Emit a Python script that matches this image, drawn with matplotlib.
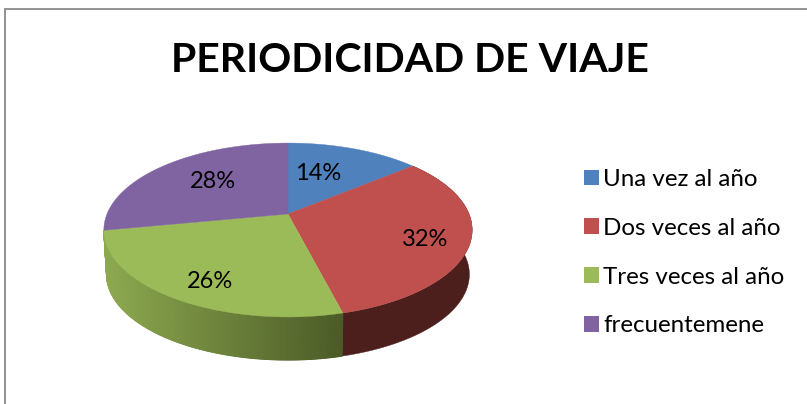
"""Periodicidad de viaje: 3D-looking pie, drawn as a projected disc."""

import numpy as np
import matplotlib
matplotlib.use("Agg")
import matplotlib.pyplot as plt
from matplotlib.collections import PolyCollection
from matplotlib.patches import Patch, Polygon

TITLE = "PERIODICIDAD DE VIAJE"
categories = ["Una vez al año", "Dos veces al año", "Tres veces al año", "frecuentemene"]
shares = [14, 32, 26, 28]

colors = ["#4f81bd", "#c0504d", "#9bbb59", "#8064a2"]
FONT = "Lato"

# disc projection (pixels)
APEX_X, APEX_Y = 288, 214
RX, RY, PERSP = 181, 84, 0.184
DEPTH, BOTTOM_SCALE = 44.6, 0.985
# percent label centres, pixels
LABEL_POS = [(318, 173), (425, 240), (210, 281), (213, 182)]


def project(theta, bottom=False):
    u, v = np.cos(theta), np.sin(theta)
    d = 1 + PERSP * v
    x, y = RX * u / d, -RY * v / d
    if bottom:
        return APEX_X + BOTTOM_SCALE * x, APEX_Y + DEPTH + BOTTOM_SCALE * y
    return APEX_X + x, APEX_Y + y


def shade(x):
    # side of the green slice goes dark towards the right
    t = np.clip((x - 105) / 242, 0, 1)
    a, b = np.array([0x8d, 0xa9, 0x50]) / 255, np.array([0x4a, 0x59, 0x26]) / 255
    return a + (b - a) * t


fig = plt.figure(figsize=(8.07, 4.04), dpi=100)
ax = fig.add_axes([0, 0, 1, 1])
ax.set_xlim(0, 807)
ax.set_ylim(404, 0)
ax.axis("off")

# chart border, only top and left show in the crop
ax.plot([5, 5, 807], [404, 9, 9], color="#8a8a8a", lw=1.3, solid_joinstyle="miter")

# slice edges, clockwise from the top
cum = np.cumsum([0] + shares) / sum(shares)
edges = np.pi / 2 - 2 * np.pi * cum

# side walls first, only red and green are in front
for i in [1, 2]:
    th = np.linspace(edges[i], edges[i + 1], 160)
    xt, yt = project(th)
    xb, yb = project(th, bottom=True)
    outline = np.column_stack([np.r_[xt, xb[::-1]], np.r_[yt, yb[::-1]]])
    base = "#4c1f1d" if i == 1 else "#6b8138"
    ax.add_patch(Polygon(outline, closed=True, facecolor=base, edgecolor=base, lw=0.3, zorder=2))
    if i == 2:
        quads, cols = [], []
        for j in range(len(th) - 1):
            quads.append([(xt[j], yt[j]), (xt[j + 1], yt[j + 1]), (xb[j + 1], yb[j + 1]), (xb[j], yb[j])])
            cols.append(shade((xt[j] + xt[j + 1]) / 2))
        ax.add_collection(PolyCollection(quads, facecolors=cols, edgecolors=cols, linewidths=0.8, zorder=2.1))

# top face
for i, c in enumerate(colors):
    th = np.linspace(edges[i], edges[i + 1], 200)
    x, y = project(th)
    pts = np.column_stack([np.r_[APEX_X, x], np.r_[APEX_Y, y]])
    ax.add_patch(Polygon(pts, closed=True, facecolor=c, edgecolor=c, lw=0.3, zorder=3))

for s, (lx, ly) in zip(shares, LABEL_POS):
    ax.text(lx, ly, f"{s}%", ha="center", va="center", fontsize=17, color="black", family=FONT, zorder=4)

ax.text(410, 60, TITLE, ha="center", va="center", fontsize=29.5, fontweight="bold", color="black", family=FONT)

handles = [Patch(facecolor=c, edgecolor="none") for c in colors]
ax.legend(handles, categories, loc="upper left", bbox_to_anchor=(584, 169), bbox_transform=ax.transData,
          frameon=False, ncol=1, prop={"family": FONT, "size": 17.4}, handlelength=0.64, handleheight=0.64,
          handletextpad=0.15, labelspacing=1.15, borderpad=0, borderaxespad=0)

fig.savefig("out.png", dpi=100)
